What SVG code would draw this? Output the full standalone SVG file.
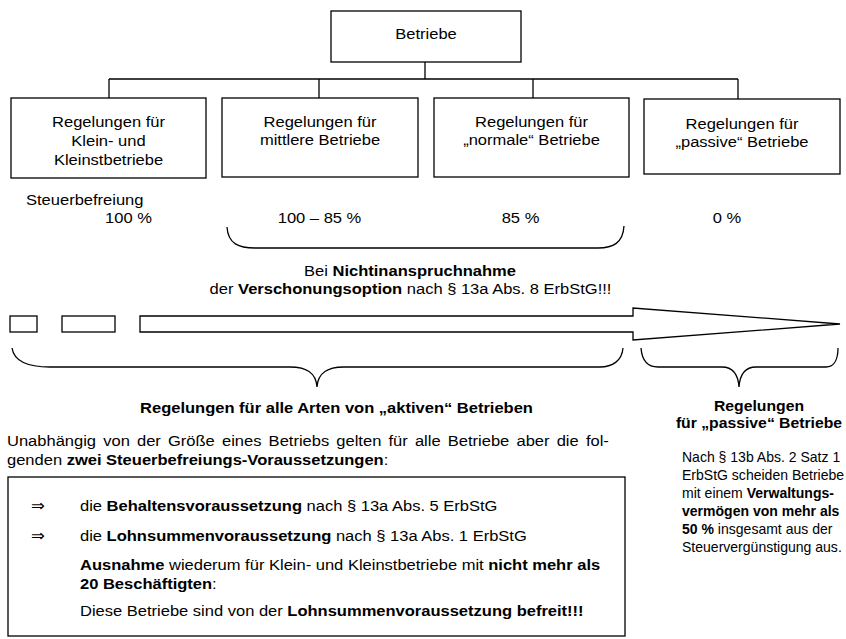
<svg xmlns="http://www.w3.org/2000/svg" width="846" height="639" viewBox="0 0 846 639">
<style>
.t{font-family:"Liberation Sans",Arial,"DejaVu Sans",sans-serif;font-size:15.3px;fill:#000}
.s{font-size:15px}
.b{font-weight:bold}
.m{text-anchor:middle}
.box{fill:#fff;stroke:#000;stroke-width:1.3}
.ln{fill:none;stroke:#000;stroke-width:1.3}
</style>
<rect width="846" height="639" fill="#fff"/>
<g id="connectors" class="ln">
<path d="M425,62 V79 M109,79 H738 M109,79 V98 M319,79 V98 M533,79 V98 M738,79 V99"/>
</g>
<g id="n-betriebe">
<rect class="box" x="331" y="11" width="190" height="51"/>
<text class="t m" transform="translate(426,39) scale(1.08,1)">Betriebe</text>
</g>
<g id="n-klein">
<rect class="box" x="11" y="98" width="195" height="80"/>
<text class="t m" transform="translate(108.5,127) scale(1.08,1)">Regelungen für</text>
<text class="t m" transform="translate(108.5,146) scale(1.08,1)">Klein- und</text>
<text class="t m" transform="translate(108.5,165) scale(1.08,1)">Kleinstbetriebe</text>
</g>
<g id="n-mittlere">
<rect class="box" x="222" y="98" width="196" height="79"/>
<text class="t m" transform="translate(320,127) scale(1.08,1)">Regelungen für</text>
<text class="t m" transform="translate(320,145) scale(1.08,1)">mittlere Betriebe</text>
</g>
<g id="n-normale">
<rect class="box" x="434" y="98" width="195" height="79"/>
<text class="t m" transform="translate(531.5,127) scale(1.08,1)">Regelungen für</text>
<text class="t m" transform="translate(531.5,145) scale(1.08,1)">„normale“ Betriebe</text>
</g>
<g id="n-passive">
<rect class="box" x="644" y="99" width="196" height="75"/>
<text class="t m" transform="translate(742,129) scale(1.08,1)">Regelungen für</text>
<text class="t m" transform="translate(742,147) scale(1.08,1)">„passive“ Betriebe</text>
</g>
<g id="rates">
<text class="t" transform="translate(26,205) scale(1.08,1)">Steuerbefreiung</text>
<text class="t m" transform="translate(128.5,223) scale(1.08,1)">100 %</text>
<text class="t m" transform="translate(319.5,223) scale(1.08,1)">100 – 85 %</text>
<text class="t m" transform="translate(520.5,223) scale(1.08,1)">85 %</text>
<text class="t m" transform="translate(727,223) scale(1.08,1)">0 %</text>
</g>
<path class="ln" d="M227,227 C228,244 239,248 255,248 L598,248 C613,248 623,243 624,226"/>
<g id="option">
<text class="t m" transform="translate(410,276) scale(1.08,1)">Bei <tspan class="b">Nichtinanspruchnahme</tspan></text>
<text class="t m" transform="translate(410.5,294) scale(1.08,1)">der <tspan class="b">Verschonungsoption</tspan> nach § 13a Abs. 8 ErbStG!!!</text>
</g>
<g id="arrow" class="ln">
<rect x="10" y="316" width="27" height="16"/>
<rect x="62" y="316" width="53" height="16"/>
<polygon points="140,316 633,316 633,308 840,324 633,340 633,332 140,332"/>
</g>
<g id="braces" class="ln">
<path d="M12,348 C14,361 28,367 50,367 L290,367 C306,367 316,372 317,387 C318,372 328,367 344,367 L600,367 C612,367 622,361 623,348"/>
<path d="M641,348 C642,361 648,367 658,367 L722,367 C732,367 738,373 739,387 C740,373 746,367 756,367 L826,367 C833,367 838,361 838,348"/>
</g>
<g id="aktive">
<text class="t b m" transform="translate(336.5,413) scale(1.08,1)">Regelungen für alle Arten von „aktiven“ Betrieben</text>
<text class="t" transform="translate(7,446) scale(1.08,1)" word-spacing="2.4">Unabhängig von der Größe eines Betriebs gelten für alle Betriebe aber die fol-</text>
<text class="t" transform="translate(7,465) scale(1.08,1)">genden <tspan class="b">zwei Steuerbefreiungs-Voraussetzungen</tspan>:</text>
</g>
<g id="conditions">
<rect class="box" x="8" y="477" width="617" height="159"/>
<text class="t" transform="translate(31,511) scale(1.08,1)">⇒</text>
<text class="t" transform="translate(80,511) scale(1.08,1)">die <tspan class="b">Behaltensvoraussetzung</tspan> nach § 13a Abs. 5 ErbStG</text>
<text class="t" transform="translate(31,541) scale(1.08,1)">⇒</text>
<text class="t" transform="translate(80,541) scale(1.08,1)">die <tspan class="b">Lohnsummenvoraussetzung</tspan> nach § 13a Abs. 1 ErbStG</text>
<text class="t" transform="translate(80,570) scale(1.08,1)"><tspan class="b">Ausnahme</tspan> wiederum für Klein- und Kleinstbetriebe mit <tspan class="b">nicht mehr als</tspan></text>
<text class="t" transform="translate(80,589) scale(1.08,1)"><tspan class="b">20 Beschäftigten</tspan>:</text>
<text class="t" transform="translate(80,616) scale(1.08,1)">Diese Betriebe sind von der <tspan class="b">Lohnsummenvoraussetzung befreit!!!</tspan></text>
</g>
<g id="passive-text">
<text class="t b m" transform="translate(759,411) scale(1.03,1)">Regelungen</text>
<text class="t b m" transform="translate(759,428) scale(1.03,1)">für „passive“ Betriebe</text>
<text class="t s" transform="translate(682,461.5) scale(0.935,1)">Nach § 13b Abs. 2 Satz 1</text>
<text class="t s" transform="translate(682,479.5) scale(0.935,1)">ErbStG scheiden Betriebe</text>
<text class="t s" transform="translate(682,497.5) scale(0.935,1)">mit einem <tspan class="b">Verwaltungs-</tspan></text>
<text class="t s" transform="translate(682,515.5) scale(0.935,1)"><tspan class="b">vermögen von mehr als</tspan></text>
<text class="t s" transform="translate(682,533.5) scale(0.935,1)"><tspan class="b">50 %</tspan> insgesamt aus der</text>
<text class="t s" transform="translate(682,551.5) scale(0.935,1)">Steuervergünstigung aus.</text>
</g>
</svg>
